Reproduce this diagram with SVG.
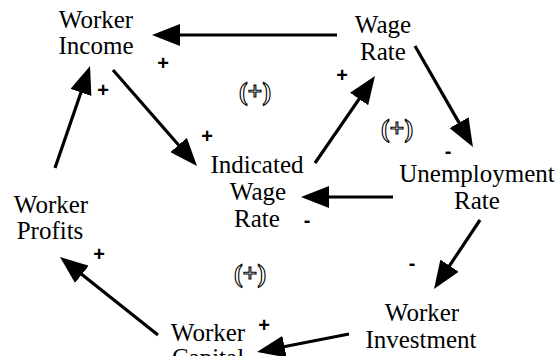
<svg xmlns="http://www.w3.org/2000/svg" width="560" height="356" viewBox="0 0 560 356">
<style>
.lbl{font-size:25px;fill:#000;text-anchor:middle}
.sg{font-family:'Liberation Sans',Arial,sans-serif;font-size:20px;font-weight:bold;fill:#000;text-anchor:middle}
.loop{font-size:26px;font-weight:bold;fill:#fff;stroke:#000;stroke-width:1.1;text-anchor:middle}
.ar{stroke:#000;stroke-width:3.2;fill:none;marker-end:url(#ah)}
</style>
<defs>
<marker id="ah" markerUnits="userSpaceOnUse" markerWidth="28" markerHeight="22" viewBox="0 0 28 22" refX="6" refY="11" orient="auto">
<path d="M0,0 L28,11 L0,22 z" fill="#000"/>
</marker>
</defs>
<rect width="560" height="356" fill="#fff"/>
<g id="connectors">
<line class="ar" x1="337" y1="35" x2="174" y2="35"/>
<line class="ar" x1="113" y1="70" x2="182.5" y2="149.5"/>
<line class="ar" x1="55" y1="168" x2="82.9" y2="86.8"/>
<line class="ar" x1="315" y1="163" x2="362.5" y2="94.1"/>
<line class="ar" x1="415" y1="46" x2="462" y2="127.9"/>
<line class="ar" x1="393" y1="197" x2="323" y2="197"/>
<line class="ar" x1="480" y1="220" x2="446.2" y2="270.7"/>
<line class="ar" x1="349" y1="334" x2="278.6" y2="347.8"/>
<line class="ar" x1="158" y1="335" x2="77.2" y2="270.7"/>
</g>
<g id="signs">
<text class="sg" x="163" y="70">+</text>
<text class="sg" x="103" y="97">+</text>
<text class="sg" x="207" y="143">+</text>
<text class="sg" x="342" y="82">+</text>
<text class="sg" x="448" y="158">-</text>
<text class="sg" x="307" y="227">-</text>
<text class="sg" x="412" y="270">-</text>
<text class="sg" x="264" y="332">+</text>
<text class="sg" x="99" y="261">+</text>
</g>
<g id="loops" font-family="Liberation Serif, serif">
<text class="loop" x="255" y="100">(+)</text>
<text class="loop" x="397" y="137">(+)</text>
<text class="loop" x="250" y="282">(+)</text>
</g>
<g id="nodes" font-family="Liberation Serif, serif">
<g id="worker-income"><text class="lbl" x="96" y="28">Worker</text><text class="lbl" x="96" y="54">Income</text></g>
<g id="wage-rate"><text class="lbl" x="383" y="33">Wage</text><text class="lbl" x="383" y="60">Rate</text></g>
<g id="indicated-wage-rate"><text class="lbl" x="257" y="173">Indicated</text><text class="lbl" x="258" y="200">Wage</text><text class="lbl" x="257" y="227">Rate</text></g>
<g id="unemployment-rate"><text class="lbl" x="477" y="182">Unemployment</text><text class="lbl" x="477" y="209">Rate</text></g>
<g id="worker-profits"><text class="lbl" x="51" y="213">Worker</text><text class="lbl" x="50" y="239">Profits</text></g>
<g id="worker-investment"><text class="lbl" x="422" y="321">Worker</text><text class="lbl" x="421" y="348">Investment</text></g>
<g id="worker-capital"><text class="lbl" x="208" y="341">Worker</text><text class="lbl" x="208" y="366">Capital</text></g>
</g>
</svg>
